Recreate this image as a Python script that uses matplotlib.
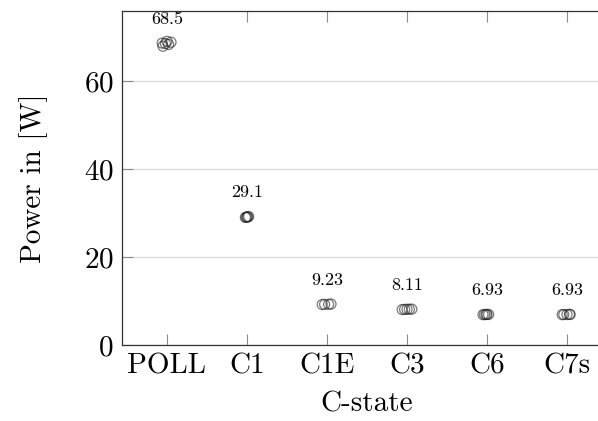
import numpy as np
import matplotlib
matplotlib.use("Agg")
import matplotlib.pyplot as plt

OUT_FIG = "out.png"

states = ["POLL", "C1", "C1E", "C3", "C6", "C7s"]

# measured power per run, with small horizontal jitter used in the original
poll_w = [67.9, 68.3, 68.5, 68.8, 69.0, 68.6]
poll_dx = [-0.05, 0.02, -0.02, 0.05, 0.0, -0.06]
c1_w = [29.0, 29.1, 29.2, 29.1, 29.0]
c1_dx = [-0.02, 0.0, 0.02, 0.01, -0.01]
c1e_w = [9.2, 9.23, 9.25, 9.3]
c1e_dx = [-0.06, -0.03, 0.02, 0.05]
c3_w = [8.05, 8.1, 8.11, 8.13, 8.15]
c3_dx = [-0.06, -0.03, 0.0, 0.03, 0.06]
c6_w = [6.9, 6.92, 6.93, 6.95, 6.94]
c6_dx = [-0.05, -0.03, -0.01, 0.0, 0.02]
c7s_w = [6.9, 6.92, 6.93, 6.95, 6.94]
c7s_dx = [-0.06, -0.04, 0.0, 0.03, 0.04]

medians = [68.5, 29.1, 9.23, 8.11, 6.93, 6.93]

samples = [poll_w, c1_w, c1e_w, c3_w, c6_w, c7s_w]
jitter = [poll_dx, c1_dx, c1e_dx, c3_dx, c6_dx, c7s_dx]


def main():
    plt.rcParams["font.family"] = ["cmr10", "DejaVu Serif"]
    plt.rcParams["mathtext.fontset"] = "cm"
    plt.rcParams["axes.formatter.use_mathtext"] = True

    fig = plt.figure(figsize=(5.98, 4.21), dpi=100)
    ax = fig.add_axes([122 / 598, 76 / 421, 490 / 598, 334 / 421])

    for i, (w, dx) in enumerate(zip(samples, jitter)):
        xs = i + np.array(dx)
        ax.scatter(xs, w, s=52, facecolors="none", edgecolors="#222222",
                   linewidths=0.9, alpha=0.6, zorder=3)
        ax.annotate(f"{medians[i]:.3g}", (i, medians[i]),
                    xytext=(0, 12), textcoords="offset points",
                    ha="center", va="bottom", fontsize=13)

    ax.set_xlim(-0.5625, 5.5625)
    ax.set_ylim(0, 75.9)
    ax.set_xticks(range(len(states)))
    ax.set_xticklabels(states)
    ax.set_yticks([0, 20, 40, 60])

    ax.grid(axis="y", color="#dcdcdc", linewidth=1.0)
    ax.set_axisbelow(True)
    ax.tick_params(direction="in", length=8, width=0.8, color="#8c8c8c",
                   labelsize=21, top=True, right=True, pad=6)
    for s in ax.spines.values():
        s.set_color("#333333")
        s.set_linewidth(0.9)

    ax.set_xlabel("C-state", fontsize=21, labelpad=8)
    ax.set_ylabel("Power in [W]", fontsize=21, labelpad=26)

    fig.savefig(OUT_FIG, dpi=100)
    plt.close(fig)


if __name__ == "__main__":
    main()
